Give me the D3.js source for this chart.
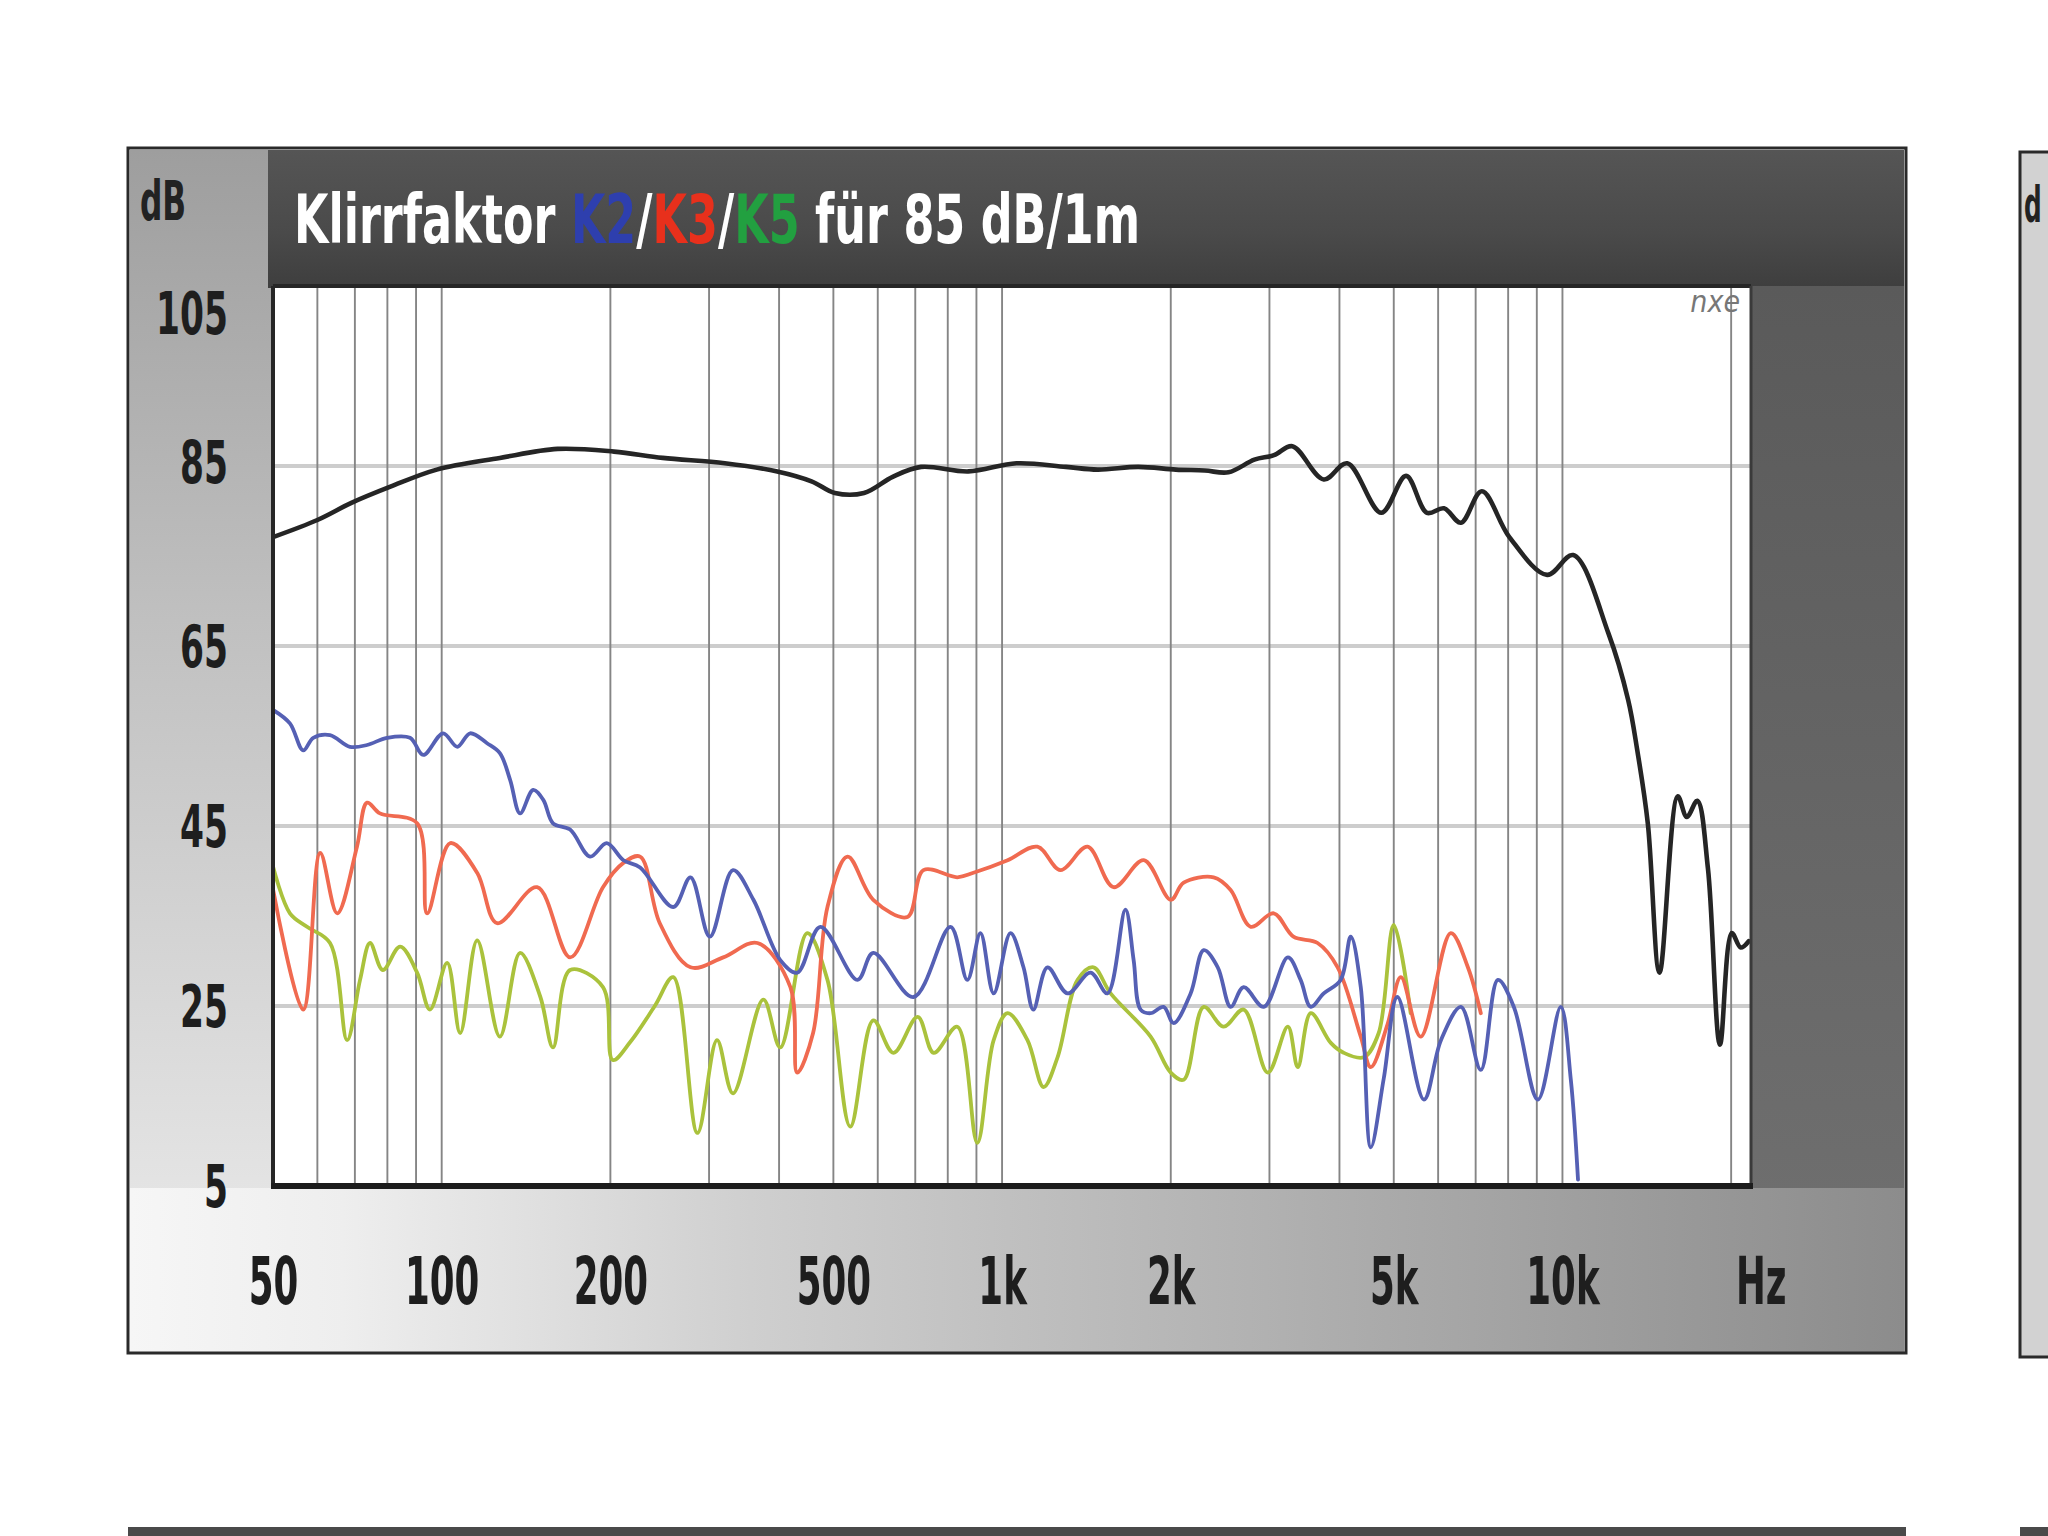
<!DOCTYPE html>
<html><head><meta charset="utf-8">
<script src="https://cdn.jsdelivr.net/npm/d3@7"></script>
<style>html,body{margin:0;padding:0;background:#fff;} svg{display:block;}</style>
</head><body>
<svg id="chart" width="2048" height="1536"></svg>
<script>
// ---------- data ----------
const splFreq = [50,60,69,81,98,127,161,203,248,320,397,457,503,567,638,717,871,1061,1300,1481,1750,2043,2300,2535,2820,3056,3296,3750,4130,4750,5260,5730,6146,6590,7180,8040,9390,10450,12080,13100,13600,14200,14900,16060,16670,17400,18180,19100,20050,20800,21500];
const splDb   = [77.1,79.0,80.9,82.7,84.6,85.9,86.9,86.6,85.9,85.3,84.4,83.3,82.0,82.0,83.8,84.9,84.4,85.3,84.9,84.6,84.9,84.6,84.5,84.3,85.7,86.2,87.2,83.5,85.3,79.8,83.9,79.8,80.3,78.7,82.2,77.1,72.9,75.1,66.4,59.0,53.4,45.3,28.7,48.3,46.0,47.8,40.3,20.7,33.1,31.5,32.2];

const k2Freq = [50,53.6,56.6,59,63.2,68.6,73.6,79.9,87.8,92.7,100.6,106.6,112.4,120.5,127,132.5,138,145.6,151.8,158,169.5,184,197,211,226,259,278,301,331,360,402,431,474,552,589,695,809,867,915,966,1035,1092,1137,1205,1309,1438,1542,1660,1717,1767,1841,1942,2024,2170,2290,2426,2558,2698,2931,3236,3410,3555,3750,4020,4190,4366,4550,4800,5075,5660,6070,6590,7150,7670,8190,9040,9930,10350,10660];
const k2Db   = [57.9,56.4,53.4,54.8,55.1,53.8,54.0,54.8,54.8,52.9,55.3,53.8,55.3,54.2,53.1,50.1,46.4,49.0,47.9,45.3,44.6,41.6,43.1,41.2,40.4,36.0,39.3,32.7,40.1,36.8,30.1,28.7,33.8,27.9,30.9,26.0,33.8,27.9,33.1,26.4,33.1,29.3,24.6,29.3,26.4,28.7,26.4,35.7,30.1,24.6,24.2,24.9,23.1,26.4,31.2,29.3,24.9,27.1,24.9,30.4,27.9,24.9,26.4,27.9,32.7,27.1,9.3,17.0,26.0,14.6,21.2,24.9,17.9,27.9,24.9,14.6,24.9,16.8,5.7];

const k3Freq = [50,56.6,60.7,65.1,70.6,73.6,77.6,90.4,94.2,103.6,115.7,125.6,148,169.5,194,211,226,245,278,318,366,419,431,460,488,530,589,678,724,832,889,1023,1156,1271,1421,1581,1790,2000,2109,2385,2558,2778,3053,3311,3656,3970,4366,4550,4875,5148,5585,6320,6780,7150];
const k3Db   = [38.0,24.6,42.0,35.3,42.7,47.6,46.4,45.3,35.3,43.1,39.8,34.2,38.2,30.4,38.2,40.9,41.6,34.2,29.3,30.4,32.0,27.1,17.6,22.0,36.0,41.6,36.8,34.9,40.1,39.3,39.8,41.2,42.7,40.1,42.7,38.2,41.2,36.8,38.7,39.3,37.9,33.8,35.3,32.7,32.0,29.3,21.6,18.2,23.0,28.2,21.6,33.1,29.3,24.2];

const k5Freq = [50,53.6,57.5,63.2,67.8,71.5,74.5,78.5,84.3,90.4,95.3,102.3,107.9,115.7,127,138,150,158,169.5,194,202,217,240,259,286,310,331,375,402,449,488,536,589,640,707,755,832,903,966,1023,1110,1186,1256,1364,1456,1562,1841,2000,2109,2290,2485,2698,2980,3236,3370,3555,3860,4070,4420,4700,5000,5360];
const k5Db   = [40.5,35.3,33.8,32.0,21.2,27.9,32.0,29.0,31.6,28.7,24.6,29.8,22.0,32.3,21.6,30.9,26.0,20.4,29.0,27.1,19.0,21.0,25.0,28.2,10.9,21.2,15.3,25.7,20.4,33.1,27.9,11.6,23.4,19.8,23.8,19.8,22.7,9.8,21.2,24.2,21.2,16.0,19.3,27.9,29.3,26.4,21.6,17.6,16.8,24.9,22.7,24.6,17.6,22.7,18.2,24.2,20.9,19.8,19.3,22.0,34.0,24.2];

const gridFreqs = [60,70,80,90,100,200,300,400,500,600,700,800,900,1000,2000,3000,4000,5000,6000,7000,8000,9000,10000,20000];
const gridDb = [25,45,65,85];
const xTickValues = [50,100,200,500,1000,2000,5000,10000];
const xTickLabels = ["50","100","200","500","1k","2k","5k","10k"];
const yTickValues = [5,25,45,65,85,105];
const yTickLabels = ["5","25","45","65","85","105"];
const titleTexts  = ["Klirrfaktor ","K2","/","K3","/","K5"," für 85 dB/1m"];
const titleColors = ["#ffffff","#2e3fae","#ffffff","#e8301c","#ffffff","#22a040","#ffffff"];

// ---------- layout ----------
const P = {l:273, r:1751, t:286, b:1186};
const FONT = "'DejaVu Sans Condensed','DejaVu Sans',sans-serif";
const svg = d3.select("#chart");
const defs = svg.append("defs");

const x = d3.scaleLog().domain([50, 21700]).range([P.l, P.r]);
const y = d3.scaleLinear().domain([5, 105]).range([P.b, P.t]);

function grad(id, x2, y2, stops){
  const g = defs.append("linearGradient").attr("id", id).attr("x1",0).attr("y1",0).attr("x2",x2).attr("y2",y2);
  stops.forEach(s => g.append("stop").attr("offset", s[0]).attr("stop-color", s[1]));
}
grad("leftG", 0, 1, [["0%","#9e9e9e"],["45%","#c0c0c0"],["100%","#e4e4e4"]]);
grad("botG", 1, 0, [["0%","#f6f6f6"],["12%","#eeeeee"],["35%","#cfcfcf"],["65%","#b0b0b0"],["100%","#8c8c8c"]]);
grad("headG", 0, 1, [["0%","#555555"],["60%","#4a4a4a"],["100%","#3e3e3e"]]);
grad("rightG", 0, 1, [["0%","#5a5a5a"],["100%","#6e6e6e"]]);

defs.append("clipPath").attr("id","plotClip").append("rect")
  .attr("x",P.l).attr("y",P.t).attr("width",P.r-P.l).attr("height",P.b-P.t);

// frame panels
svg.append("rect").attr("x",130).attr("y",150).attr("width",145).attr("height",1045).attr("fill","url(#leftG)");
svg.append("rect").attr("x",268).attr("y",150).attr("width",1636).attr("height",138).attr("fill","url(#headG)");
svg.append("rect").attr("x",P.r).attr("y",286).attr("width",1904-P.r).attr("height",910).attr("fill","url(#rightG)");
svg.append("rect").attr("x",130).attr("y",1188).attr("width",1774).attr("height",164).attr("fill","url(#botG)");
svg.append("rect").attr("x",P.l).attr("y",P.t).attr("width",P.r-P.l).attr("height",P.b-P.t).attr("fill","#ffffff");

// grid
const grid = svg.append("g");
grid.selectAll("line.h").data(gridDb).join("line")
  .attr("x1",P.l).attr("x2",P.r).attr("y1",d=>y(d)).attr("y2",d=>y(d))
  .attr("stroke","#cdcdcd").attr("stroke-width",4);
grid.selectAll("line.v").data(gridFreqs).join("line")
  .attr("x1",d=>x(d)).attr("x2",d=>x(d)).attr("y1",P.t).attr("y2",P.b)
  .attr("stroke","#858585").attr("stroke-width",1.9);

// curves
const line = d3.line().x(d=>x(d[0])).y(d=>y(d[1])).curve(d3.curveCatmullRom.alpha(0.5));
const zip = (a,b) => a.map((v,i)=>[v,b[i]]);
const curves = svg.append("g").attr("clip-path","url(#plotClip)").attr("fill","none")
  .attr("stroke-linejoin","round").attr("stroke-linecap","round");
curves.append("path").attr("d",line(zip(k5Freq,k5Db))).attr("stroke","#aac23c").attr("stroke-width",3.8);
curves.append("path").attr("d",line(zip(k3Freq,k3Db))).attr("stroke","#f06a50").attr("stroke-width",3.8);
curves.append("path").attr("d",line(zip(k2Freq,k2Db))).attr("stroke","#5560b4").attr("stroke-width",3.8);
curves.append("path").attr("d",line(zip(splFreq,splDb))).attr("stroke","#252525").attr("stroke-width",4.6);

// plot borders
svg.append("line").attr("x1",P.l).attr("x2",P.r).attr("y1",P.t).attr("y2",P.t).attr("stroke","#262626").attr("stroke-width",4);
svg.append("line").attr("x1",P.l).attr("x2",P.l).attr("y1",P.t).attr("y2",P.b).attr("stroke","#262626").attr("stroke-width",4);
svg.append("line").attr("x1",P.r).attr("x2",P.r).attr("y1",P.t).attr("y2",P.b).attr("stroke","#3a3a3a").attr("stroke-width",3);
svg.append("line").attr("x1",P.l-2).attr("x2",P.r+2).attr("y1",P.b).attr("y2",P.b).attr("stroke","#1c1c1c").attr("stroke-width",6);

// x axis labels
const xa = svg.append("g").attr("transform",`translate(0,1280)`)
  .call(d3.axisBottom(x).tickValues(xTickValues).tickFormat((d,i)=>xTickLabels[i]).tickSize(0));
xa.select(".domain").remove();
xa.selectAll("text").attr("y",0).attr("dy","0.36em")
  .attr("font-family",FONT).attr("font-weight","bold").attr("font-size",66).attr("fill","#1e1e1e")
  .attr("transform","scale(0.6,1)");
svg.append("text").attr("transform",`translate(${x(20000)+30},1280) scale(0.6,1)`).attr("dy","0.36em")
  .attr("text-anchor","middle").attr("font-family",FONT).attr("font-weight","bold").attr("font-size",66).attr("fill","#1e1e1e").text("Hz");

// y axis labels
const ya = svg.append("g").attr("transform",`translate(228,0)`)
  .call(d3.axisLeft(y).tickValues(yTickValues).tickFormat((d,i)=>yTickLabels[i]).tickSize(0).tickPadding(0));
ya.select(".domain").remove();
ya.selectAll("text").attr("x",0).attr("y",d=>d===105?27:(d===85?-4:0)).attr("dy","0.36em")
  .attr("font-family",FONT).attr("font-weight","bold").attr("font-size",58).attr("fill","#1e1e1e")
  .attr("transform","scale(0.66,1)");

// dB unit
svg.append("text").attr("transform","translate(140,220) scale(0.62,1)")
  .attr("font-family",FONT).attr("font-weight","bold").attr("font-size",56).attr("fill","#222").text("dB");

// title
const title = svg.append("text").attr("x",0).attr("y",0)
  .attr("font-family",FONT).attr("font-weight","bold").attr("font-size",68);
titleTexts.forEach((t,i)=> title.append("tspan").attr("fill",titleColors[i]).text(t));
const tw = title.node().getBBox().width;
title.attr("transform",`translate(294,243) scale(${846/tw},1)`);

// small logo
svg.append("text").attr("x",1740).attr("y",312).attr("text-anchor","end")
  .attr("font-family",FONT).attr("font-size",30).attr("fill","#777").attr("font-style","italic").text("nxe");

// outer frame
svg.append("rect").attr("x",128).attr("y",148).attr("width",1778).attr("height",1205)
  .attr("fill","none").attr("stroke","#2a2a2a").attr("stroke-width",3);

// neighbouring charts (cut off at the edges of the page)
svg.append("rect").attr("x",2020).attr("y",152).attr("width",60).attr("height",1205)
  .attr("fill","#d2d2d2").attr("stroke","#2a2a2a").attr("stroke-width",3);
svg.append("text").attr("transform","translate(2024,222) scale(0.55,1)")
  .attr("font-family",FONT).attr("font-weight","bold").attr("font-size",50).attr("fill","#222").text("d");
svg.append("rect").attr("x",128).attr("y",1527).attr("width",1778).attr("height",14).attr("fill","#4a4a4a");
svg.append("rect").attr("x",2020).attr("y",1527).attr("width",40).attr("height",14).attr("fill","#4a4a4a");
</script>
</body></html>
